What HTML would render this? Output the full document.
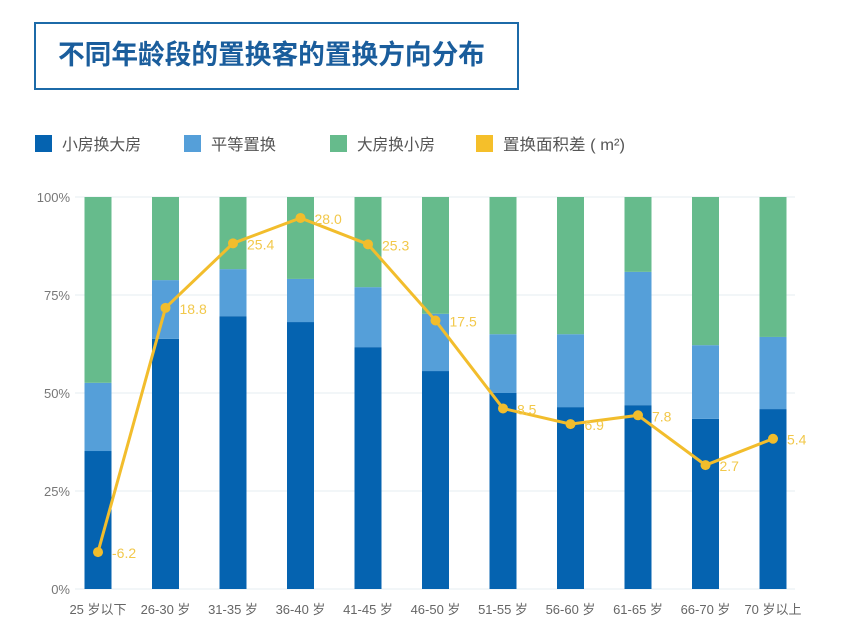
<!DOCTYPE html>
<html><head><meta charset="utf-8"><style>
body{margin:0;background:#fff;width:850px;height:637px;overflow:hidden;font-family:"Liberation Sans","Noto Sans CJK SC",sans-serif}
</style></head><body>
<svg width="850" height="637" xmlns="http://www.w3.org/2000/svg" style="font-family:'Liberation Sans','Noto Sans CJK SC',sans-serif">
<rect x="35" y="23" width="483" height="66" fill="none" stroke="#1c6aa8" stroke-width="2"/>
<text x="58" y="64" font-size="27" font-weight="bold" fill="#1a5d9c" textLength="427" lengthAdjust="spacingAndGlyphs">不同年龄段的置换客的置换方向分布</text>
<g id="legend" font-size="16" fill="#555"></g>
<g id="grid"></g><g id="bars"></g><g id="line"></g><g id="xl"></g>
</svg>
<script>
const categories=["25 岁以下","26-30 岁","31-35 岁","36-40 岁","41-45 岁","46-50 岁","51-55 岁","56-60 岁","61-65 岁","66-70 岁","70 岁以上"];
const smallToBig=[35.2,63.8,69.6,68.1,61.7,55.6,50.0,46.4,46.9,43.4,45.9];
const equalSwap=[17.4,15.0,12.0,11.0,15.3,14.6,15.0,18.6,34.0,18.8,18.4];
const areaDiff=[-6.2,18.8,25.4,28.0,25.3,17.5,8.5,6.9,7.8,2.7,5.4];
const yTicks=[0,25,50,75,100];
const NS="http://www.w3.org/2000/svg";
const y0=589,ph=392,x0=98,step=67.5,bw=27;
const yP=v=>y0-v/100*ph, xC=i=>x0+i*step, yL=v=>491.5-9.77*v;
function mk(p,t,a){const e=document.createElementNS(NS,t);for(const k in a)e.setAttribute(k,a[k]);p.appendChild(e);return e;}
const lg=document.getElementById('legend');
const legs=[["小房换大房","#0563b0",35,79],["平等置换","#559fd9",184,65],["大房换小房","#66bb8c",330,78],["置换面积差 ( m²)","#f5bf2a",476,122]];
legs.forEach(l=>{const r=mk(lg,'rect',{x:l[2],y:135,width:17,height:17,fill:l[1]});

const t=mk(lg,'text',{x:l[2]+27,y:150,textLength:l[3],lengthAdjust:'spacingAndGlyphs'});t.textContent=l[0];
});
const g=document.getElementById('grid');
yTicks.forEach(v=>{const ln=mk(g,'line',{x1:75,x2:795,y1:yP(v),y2:yP(v),stroke:'#e6ecf1','stroke-width':1});

const t=mk(g,'text',{x:70,y:yP(v)+5,'text-anchor':'end','font-size':13,fill:'#777'});t.textContent=v+'%';
});
const b=document.getElementById('bars');
categories.forEach((c,i)=>{const s=smallToBig[i],e=equalSwap[i],x=xC(i)-bw/2;
const r1=mk(b,'rect',{x:x,y:yP(s),width:bw,height:yP(0)-yP(s),fill:'#0563b0'});

const r2=mk(b,'rect',{x:x,y:yP(s+e),width:bw,height:yP(s)-yP(s+e),fill:'#559fd9'});

const r3=mk(b,'rect',{x:x,y:yP(100),width:bw,height:yP(s+e)-yP(100),fill:'#66bb8c'});

const t=mk(document.getElementById('xl'),'text',{x:xC(i),y:614,'text-anchor':'middle','font-size':13,fill:'#666'});t.textContent=c;
});
const L=document.getElementById('line');
const pl=mk(L,'polyline',{points:areaDiff.map((v,i)=>xC(i)+','+yL(v)).join(' '),fill:'none',stroke:'#f2bd2c','stroke-width':3});

areaDiff.forEach((v,i)=>{const c=mk(L,'circle',{cx:xC(i),cy:yL(v),r:5,fill:'#f2bd2c'});

const t=mk(L,'text',{x:xC(i)+14,y:yL(v)+6,'font-size':14,fill:'#f2c84a'});t.textContent=v.toFixed(1);
});
</script>
</body></html>
